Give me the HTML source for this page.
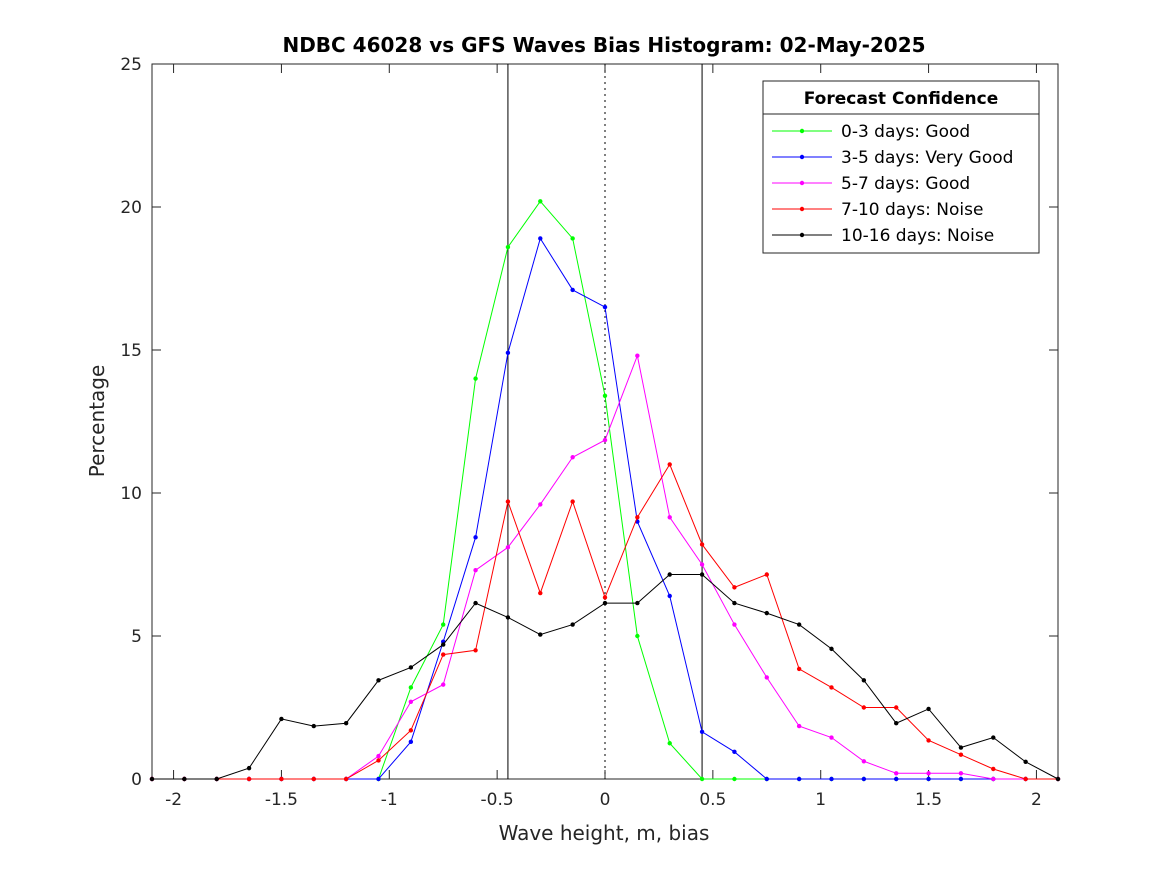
<!DOCTYPE html>
<html><head><meta charset="utf-8"><style>body{margin:0;background:#fff}svg{font-family:"DejaVu Sans","Liberation Sans",sans-serif}</style></head>
<body>
<svg id="chart" width="1167" height="875" xmlns="http://www.w3.org/2000/svg"></svg>
<script>
const xValues=[-2.1,-1.95,-1.8,-1.65,-1.5,-1.35,-1.2,-1.05,-0.9,-0.75,-0.6,-0.45,-0.3,-0.15,0,0.15,0.3,0.45,0.6,0.75,0.9,1.05,1.2,1.35,1.5,1.65,1.8,1.95,2.1];
const green=[0,0,0,0,0,0,0,0,3.2,5.4,14.0,18.6,20.2,18.9,13.4,5.0,1.25,0,0,0,0,0,0,0,0,0,0,0,0];
const blue=[0,0,0,0,0,0,0,0,1.3,4.8,8.45,14.9,18.9,17.1,16.5,9.0,6.4,1.65,0.95,0,0,0,0,0,0,0,0,0,0];
const magenta=[0,0,0,0,0,0,0,0.8,2.7,3.3,7.3,8.1,9.6,11.25,11.85,14.8,9.15,7.5,5.4,3.55,1.85,1.45,0.62,0.2,0.2,0.2,0,0,0];
const red=[0,0,0,0,0,0,0,0.65,1.7,4.35,4.5,9.7,6.5,9.7,6.35,9.15,11.0,8.2,6.7,7.15,3.85,3.2,2.5,2.5,1.35,0.85,0.35,0,0];
const black=[0,0,0,0.38,2.1,1.85,1.95,3.45,3.9,4.7,6.15,5.65,5.05,5.4,6.15,6.15,7.15,7.15,6.15,5.8,5.4,4.55,3.45,1.95,2.45,1.1,1.45,0.6,0];
const xTicks=[-2,-1.5,-1,-0.5,0,0.5,1,1.5,2];
const xTickLabels=["-2","-1.5","-1","-0.5","0","0.5","1","1.5","2"];
const yTicks=[0,5,10,15,20,25];
const seriesNames=["0-3 days: Good","3-5 days: Very Good","5-7 days: Good","7-10 days: Noise","10-16 days: Noise"];
const NS="http://www.w3.org/2000/svg";
const L=152,R=1058,T=64,B=779;
const sx=v=>L+(v+2.1)/4.2*(R-L);
const sy=v=>B-v/25*(B-T);
const svg=document.getElementById('chart');
function el(tag,attrs,parent){const e=document.createElementNS(NS,tag);for(const k in attrs)e.setAttribute(k,attrs[k]);(parent||svg).appendChild(e);return e;}
const axes=el('g',{});


el('rect',{x:L,y:T,width:R-L,height:B-T,fill:'#fff',stroke:'#262626','stroke-width':1},axes);
xTicks.forEach((t,i)=>{const x=sx(t);
el('line',{x1:x,x2:x,y1:B,y2:B-9,stroke:'#262626'},axes);
el('line',{x1:x,x2:x,y1:T,y2:T+9,stroke:'#262626'},axes);
const tx=el('text',{x:x,y:B+26,'text-anchor':'middle','font-size':17,fill:'#262626'},axes);tx.textContent=xTickLabels[i];

});
yTicks.forEach(t=>{const y=sy(t);
el('line',{x1:L,x2:L+9,y1:y,y2:y,stroke:'#262626'},axes);
el('line',{x1:R,x2:R-9,y1:y,y2:y,stroke:'#262626'},axes);
const tx=el('text',{x:L-10,y:y+6,'text-anchor':'end','font-size':17,fill:'#262626'},axes);tx.textContent=t;

});
[[-0.45,''],[0,'2,4'],[0.45,'']].forEach(([v,d])=>{const ln=el('line',{x1:sx(v),x2:sx(v),y1:T,y2:B,stroke:'#000','stroke-width':1,'stroke-dasharray':d});

});
const colors=['#00ff00','#0000ff','#ff00ff','#ff0000','#000000'];
[green,blue,magenta,red,black].forEach((s,k)=>{
const g=el('g',{});


el('polyline',{points:s.map((v,i)=>sx(xValues[i])+','+sy(v)).join(' '),fill:'none',stroke:colors[k],'stroke-width':1},g);
s.forEach((v,i)=>{el('circle',{cx:sx(xValues[i]),cy:sy(v),r:2.2,fill:colors[k]},g);});
});
const t=el('text',{x:604,y:52,'text-anchor':'middle','font-size':20,'font-weight':'bold',fill:'#000'});t.textContent='NDBC 46028 vs GFS Waves Bias Histogram: 02-May-2025';


const xl=el('text',{x:604,y:840,'text-anchor':'middle','font-size':20,fill:'#262626'});xl.textContent='Wave height, m, bias';


const yl=el('text',{x:104,y:421,'text-anchor':'middle','font-size':20,fill:'#262626',transform:'rotate(-90 104 421)'});yl.textContent='Percentage';


const lg=el('g',{});


el('rect',{x:763,y:81,width:276,height:172,fill:'#fff',stroke:'#262626'},lg);
el('line',{x1:763,x2:1039,y1:114,y2:114,stroke:'#262626'},lg);
const lt=el('text',{x:901,y:104,'text-anchor':'middle','font-size':17,'font-weight':'bold',fill:'#000'},lg);lt.textContent='Forecast Confidence';
seriesNames.forEach((n,k)=>{const y=131+k*26;
const e=el('g',{},lg);


el('line',{x1:772,x2:832,y1:y,y2:y,stroke:colors[k]},e);
el('circle',{cx:802,cy:y,r:2.2,fill:colors[k]},e);
const tx=el('text',{x:841,y:y+6,'font-size':17,fill:'#000'},e);tx.textContent=n;});
</script>
</body></html>
